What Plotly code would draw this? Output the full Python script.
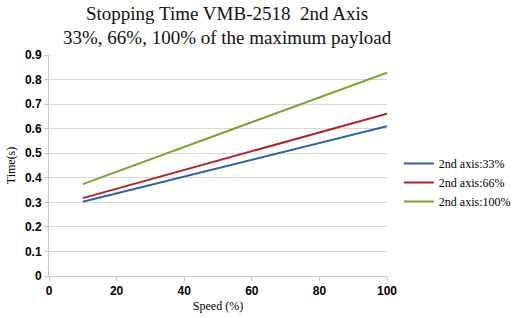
import plotly.graph_objects as go

speed = [10, 100]
t33 = [0.302, 0.610]
t66 = [0.317, 0.661]
t100 = [0.374, 0.828]
names = ["2nd axis:33%", "2nd axis:66%", "2nd axis:100%"]
colors = ["#2a62ac", "#b0232a", "#7aa32d"]
x_ticks = [0, 20, 40, 60, 80, 100]
y_ticks = [0, 0.1, 0.2, 0.3, 0.4, 0.5, 0.6, 0.7, 0.8, 0.9]
title_lines = ["Stopping Time VMB-2518  2nd Axis", "33%, 66%, 100% of the maximum payload"]

fig = go.Figure()
for ys, nm, c in zip([t33, t66, t100], names, colors):
    fig.add_trace(go.Scatter(x=speed, y=ys, mode="lines", name=nm,
                             line=dict(color=c, width=2)))

serif = "Liberation Serif"
sans = "Liberation Sans"
for txt, yy in zip(title_lines, [1.186, 1.077]):
    fig.add_annotation(text=txt, xref="paper", yref="paper", x=0.527, y=yy,
                       xanchor="center", yanchor="middle", showarrow=False,
                       font=dict(family=serif, size=19, color="#111"))

fig.update_layout(
    width=515, height=318,
    margin=dict(l=49, r=128, t=55, b=42, autoexpand=False),
    paper_bgcolor="white", plot_bgcolor="white",
    xaxis=dict(range=[0, 100], tickvals=x_ticks, showgrid=False,
               showline=True, linecolor="#c8c8c8", linewidth=1,
               ticks="outside", ticklen=4, tickcolor="#c8c8c8",
               tickfont=dict(family=sans, size=12, color="#000", weight="bold"),
               title=dict(text="Speed (%)", font=dict(family=serif, size=12, color="#000"), standoff=4),
               zeroline=False, automargin=False),
    yaxis=dict(range=[0, 0.9], tickvals=y_ticks, ticktext=["0", "0.1", "0.2", "0.3", "0.4", "0.5", "0.6", "0.7", "0.8", "0.9"],
               showgrid=True, gridcolor="#d9d9d9", gridwidth=1,
               showline=True, linecolor="#c8c8c8", linewidth=1,
               ticks="outside", ticklen=4, tickcolor="#c8c8c8",
               tickfont=dict(family=sans, size=12, color="#000", weight="bold"),
               title=dict(text="Time(s)", font=dict(family=serif, size=12, color="#000"), standoff=6),
               zeroline=False, automargin=False),
    legend=dict(x=1.035, xanchor="left", y=0.575, yanchor="top",
                font=dict(family=serif, size=12, color="#000"),
                bgcolor="rgba(0,0,0,0)", itemwidth=30, tracegroupgap=0),
    showlegend=True,
)

fig.write_html("out.html")
